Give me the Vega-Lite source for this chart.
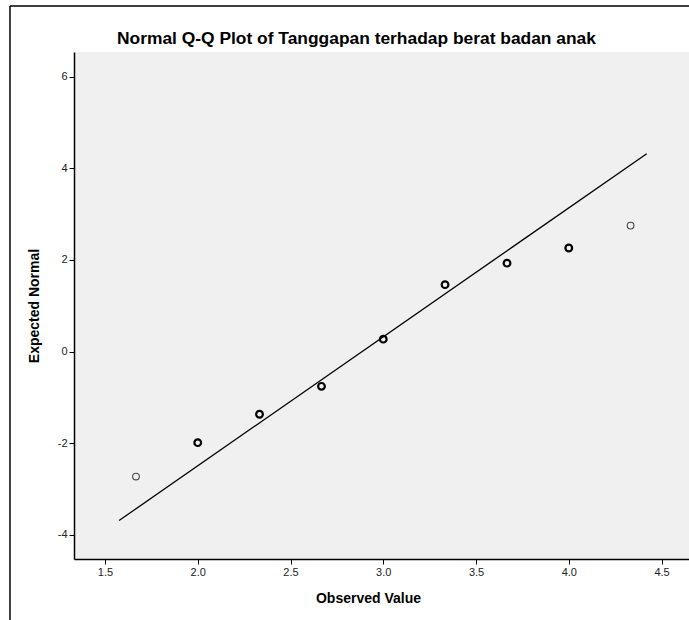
{
  "$schema": "https://vega.github.io/schema/vega-lite/v6.json",
  "autosize": "none",
  "width": 615,
  "height": 507,
  "padding": {"left": 74, "top": 52, "right": 0, "bottom": 61},
  "background": "white",
  "title": {
    "text": "Normal Q-Q Plot of Tanggapan terhadap berat badan anak",
    "font": "Liberation Sans",
    "fontSize": 17.4,
    "fontWeight": "bold",
    "color": "#000000",
    "anchor": "start",
    "frame": "group",
    "dx": 43,
    "offset": -42
  },
  "config": {
    "view": {"fill": "#f0f0f0", "stroke": null},
    "axis": {
      "grid": false,
      "domainColor": "#000000",
      "domainWidth": 1.5,
      "tickColor": "#000000",
      "tickSize": 5,
      "tickWidth": 1,
      "labelFont": "Liberation Sans",
      "labelFontSize": 11,
      "labelColor": "#222222",
      "titleFont": "Liberation Sans",
      "titleFontSize": 14,
      "titleFontWeight": "bold",
      "titleColor": "#000000"
    }
  },
  "datasets": {
    "points": [
      {"observed": 1.667, "expected": -2.73, "ties": 1},
      {"observed": 2.0, "expected": -1.99, "ties": 2},
      {"observed": 2.333, "expected": -1.37, "ties": 2},
      {"observed": 2.667, "expected": -0.76, "ties": 2},
      {"observed": 3.0, "expected": 0.27, "ties": 2},
      {"observed": 3.333, "expected": 1.46, "ties": 2},
      {"observed": 3.667, "expected": 1.93, "ties": 2},
      {"observed": 4.0, "expected": 2.26, "ties": 2},
      {"observed": 4.333, "expected": 2.75, "ties": 1}
    ],
    "refline": [
      {"observed": 1.576, "expected": -3.69},
      {"observed": 4.42, "expected": 4.32}
    ],
    "frame": [
      {"part": "border"}
    ]
  },
  "layer": [
    {
      "data": {"name": "refline"},
      "mark": {"type": "line", "color": "#000000", "strokeWidth": 1.3},
      "encoding": {
        "x": {
          "field": "observed",
          "type": "quantitative",
          "scale": {"domain": [1.333, 4.648], "nice": false, "zero": false},
          "axis": {
            "title": "Observed Value",
            "values": [1.5, 2.0, 2.5, 3.0, 3.5, 4.0, 4.5],
            "format": ".1f",
            "labelPadding": 2,
            "titleX": 294,
            "titlePadding": 14
          }
        },
        "y": {
          "field": "expected",
          "type": "quantitative",
          "scale": {"domain": [-4.53, 6.54], "nice": false, "zero": false},
          "axis": {
            "title": "Expected Normal",
            "values": [-4, -2, 0, 2, 4, 6],
            "labelExpr": "'' + datum.value",
            "labelPadding": 2,
            "titlePadding": 16
          }
        }
      }
    },
    {
      "data": {"name": "points"},
      "mark": {"type": "point", "shape": "circle", "filled": false, "size": 45, "opacity": 1},
      "encoding": {
        "x": {"field": "observed", "type": "quantitative"},
        "y": {"field": "expected", "type": "quantitative"},
        "strokeWidth": {
          "field": "ties",
          "type": "quantitative",
          "scale": {"domain": [1, 2], "range": [1.1, 2.2]},
          "legend": null
        },
        "color": {
          "condition": {"test": "datum.ties > 1", "value": "#000000"},
          "value": "#444444"
        }
      }
    },
    {
      "data": {"name": "frame"},
      "mark": {"type": "rule", "color": "#000000", "strokeWidth": 1.5, "clip": false},
      "encoding": {
        "x": {"datum": 0.988, "type": "quantitative"},
        "x2": {"datum": 5.0},
        "y": {"datum": 7.544, "type": "quantitative"}
      }
    },
    {
      "data": {"name": "frame"},
      "mark": {"type": "rule", "color": "#000000", "strokeWidth": 1.5, "clip": false},
      "encoding": {
        "x": {"datum": 0.988, "type": "quantitative"},
        "y": {"datum": 7.544, "type": "quantitative"},
        "y2": {"datum": -6.0}
      }
    }
  ]
}
